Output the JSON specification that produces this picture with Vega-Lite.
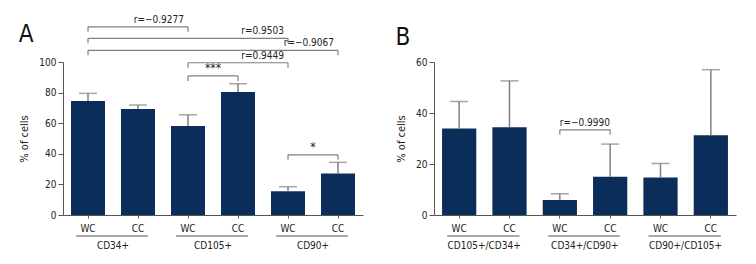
{
  "$schema": "https://vega.github.io/schema/vega-lite/v6.json",
  "background": "white",
  "padding": {"left": 18, "top": 14, "right": 5, "bottom": 0},
  "config": {
    "view": {"stroke": null},
    "font": "DejaVu Sans Condensed, DejaVu Sans, sans-serif",
    "axis": {
      "grid": false,
      "domainColor": "#555555",
      "tickColor": "#555555",
      "labelColor": "#222222",
      "titleColor": "#222222",
      "labelFont": "DejaVu Sans Condensed, DejaVu Sans, sans-serif",
      "titleFont": "DejaVu Sans Condensed, DejaVu Sans, sans-serif",
      "labelFontSize": 10,
      "titleFontSize": 11,
      "titleFontWeight": "normal",
      "labelOverlap": false,
      "labelBound": false
    },
    "title": {
      "font": "DejaVu Sans Condensed, DejaVu Sans, sans-serif",
      "fontSize": 24,
      "fontWeight": "normal",
      "anchor": "start",
      "frame": "bounds",
      "color": "#111111"
    },
    "concat": {"spacing": 32}
  },
  "datasets": {
    "barsA": [
      {"group": "CD34+", "cond": "WC", "id": "CD34+ WC", "value": 74.5, "upper": 79.5},
      {"group": "CD34+", "cond": "CC", "id": "CD34+ CC", "value": 69.3, "upper": 71.9},
      {"group": "CD105+", "cond": "WC", "id": "CD105+ WC", "value": 58.2, "upper": 65.5},
      {"group": "CD105+", "cond": "CC", "id": "CD105+ CC", "value": 80.4, "upper": 85.8},
      {"group": "CD90+", "cond": "WC", "id": "CD90+ WC", "value": 15.5, "upper": 18.5},
      {"group": "CD90+", "cond": "CC", "id": "CD90+ CC", "value": 27.2, "upper": 34.4}
    ],
    "barsB": [
      {"group": "CD105+/CD34+", "cond": "WC", "id": "CD105+/CD34+ WC", "value": 33.9, "upper": 44.5},
      {"group": "CD105+/CD34+", "cond": "CC", "id": "CD105+/CD34+ CC", "value": 34.4, "upper": 52.6},
      {"group": "CD34+/CD90+", "cond": "WC", "id": "CD34+/CD90+ WC", "value": 5.9, "upper": 8.3},
      {"group": "CD34+/CD90+", "cond": "CC", "id": "CD34+/CD90+ CC", "value": 15.0, "upper": 27.8},
      {"group": "CD90+/CD105+", "cond": "WC", "id": "CD90+/CD105+ WC", "value": 14.7, "upper": 20.2},
      {"group": "CD90+/CD105+", "cond": "CC", "id": "CD90+/CD105+ CC", "value": 31.3, "upper": 57.0}
    ],
    "brA": [
      {"from": "CD34+ WC", "to": "CD105+ WC", "y": 123.0, "label": "r=−0.9277", "kind": "r"},
      {"from": "CD34+ WC", "to": "CD90+ WC", "y": 115.5, "label": "r=0.9503", "kind": "r"},
      {"from": "CD34+ WC", "to": "CD90+ CC", "y": 107.6, "label": "r=−0.9067", "kind": "r"},
      {"from": "CD105+ WC", "to": "CD90+ WC", "y": 99.5, "label": "r=0.9449", "kind": "r"},
      {"from": "CD105+ WC", "to": "CD105+ CC", "y": 90.9, "label": "***", "kind": "c"},
      {"from": "CD90+ WC", "to": "CD90+ CC", "y": 39.3, "label": "*", "kind": "c"}
    ],
    "brB": [
      {"from": "CD34+/CD90+ WC", "to": "CD34+/CD90+ CC", "y": 33.4, "label": "r=−0.9990", "kind": "c"}
    ],
    "grpA": [
      {"group": "CD34+", "wc": "CD34+ WC", "cc": "CD34+ CC"},
      {"group": "CD105+", "wc": "CD105+ WC", "cc": "CD105+ CC"},
      {"group": "CD90+", "wc": "CD90+ WC", "cc": "CD90+ CC"}
    ],
    "grpB": [
      {"group": "CD105+/CD34+", "wc": "CD105+/CD34+ WC", "cc": "CD105+/CD34+ CC"},
      {"group": "CD34+/CD90+", "wc": "CD34+/CD90+ WC", "cc": "CD34+/CD90+ CC"},
      {"group": "CD90+/CD105+", "wc": "CD90+/CD105+ WC", "cc": "CD90+/CD105+ CC"}
    ]
  },
  "hconcat": [
    {
      "title": {"text": "A", "offset": -32},
      "width": 300,
      "height": 153,
      "layer": [
        {
          "data": {"name": "barsA"},
          "mark": {"type": "bar", "color": "#0b2d5a"},
          "encoding": {
            "x": {
              "field": "id", "type": "nominal", "sort": null,
              "scale": {"domain": ["CD34+ WC", "CD34+ CC", "CD105+ WC", "CD105+ CC", "CD90+ WC", "CD90+ CC"], "paddingInner": 0.32, "paddingOuter": 0.16},
              "axis": {"title": null, "labelAngle": 0, "tickSize": 3, "labelPadding": 5, "labelExpr": "split(datum.label, ' ')[1]"}
            },
            "y": {
              "field": "value", "type": "quantitative",
              "scale": {"domain": [0, 100], "nice": false},
              "axis": {"title": "% of cells", "values": [0, 20, 40, 60, 80, 100], "tickCount": 6, "labelOverlap": false, "labelSeparation": 0, "tickSize": 5, "labelPadding": 2, "titlePadding": 9}
            }
          }
        },
        {
          "data": {"name": "barsA"},
          "mark": {"type": "rule", "color": "#808080", "strokeWidth": 1.5},
          "encoding": {
            "x": {"field": "id", "type": "nominal"},
            "y": {"field": "value", "type": "quantitative"},
            "y2": {"field": "upper"}
          }
        },
        {
          "data": {"name": "barsA"},
          "mark": {"type": "tick", "color": "#808080", "thickness": 1.5, "size": 18},
          "encoding": {
            "x": {"field": "id", "type": "nominal"},
            "y": {"field": "upper", "type": "quantitative"}
          }
        },
        {
          "data": {"name": "brA"},
          "mark": {"type": "rule", "color": "#808080", "strokeWidth": 1.2},
          "encoding": {
            "x": {"field": "from", "type": "nominal"},
            "x2": {"field": "to"},
            "y": {"field": "y", "type": "quantitative"}
          }
        },
        {
          "data": {"name": "brA"},
          "mark": {"type": "rule", "color": "#808080", "strokeWidth": 1.2, "y2Offset": 5},
          "encoding": {
            "x": {"field": "from", "type": "nominal"},
            "y": {"field": "y", "type": "quantitative"},
            "y2": {"field": "y"}
          }
        },
        {
          "data": {"name": "brA"},
          "mark": {"type": "rule", "color": "#808080", "strokeWidth": 1.2, "y2Offset": 5},
          "encoding": {
            "x": {"field": "to", "type": "nominal"},
            "y": {"field": "y", "type": "quantitative"},
            "y2": {"field": "y"}
          }
        },
        {
          "data": {"name": "brA"},
          "transform": [{"filter": "datum.kind === 'r'"}],
          "mark": {"type": "text", "align": "right", "baseline": "bottom", "dx": -4, "dy": -2, "fontSize": 10, "color": "#222222"},
          "encoding": {
            "x": {"field": "to", "type": "nominal"},
            "y": {"field": "y", "type": "quantitative"},
            "text": {"field": "label"}
          }
        },
        {
          "data": {"name": "brA"},
          "transform": [{"filter": "datum.kind === 'c'"}],
          "mark": {"type": "text", "align": "center", "baseline": "bottom", "dx": 25, "dy": -1, "fontSize": 12, "color": "#222222"},
          "encoding": {
            "x": {"field": "from", "type": "nominal"},
            "y": {"field": "y", "type": "quantitative"},
            "text": {"field": "label"}
          }
        },
        {
          "data": {"name": "grpA"},
          "mark": {"type": "rule", "color": "#555555", "strokeWidth": 1, "xOffset": -12, "x2Offset": 10, "yOffset": 21},
          "encoding": {
            "x": {"field": "wc", "type": "nominal"},
            "x2": {"field": "cc"},
            "y": {"datum": 0}
          }
        },
        {
          "data": {"name": "grpA"},
          "mark": {"type": "text", "align": "center", "baseline": "alphabetic", "dx": 25, "dy": 34, "fontSize": 10, "color": "#222222"},
          "encoding": {
            "x": {"field": "wc", "type": "nominal"},
            "y": {"datum": 0},
            "text": {"field": "group"}
          }
        }
      ]
    },
    {
      "title": {"text": "B", "offset": 7},
      "width": 302,
      "height": 153,
      "layer": [
        {
          "data": {"name": "barsB"},
          "mark": {"type": "bar", "color": "#0b2d5a"},
          "encoding": {
            "x": {
              "field": "id", "type": "nominal", "sort": null,
              "scale": {"domain": ["CD105+/CD34+ WC", "CD105+/CD34+ CC", "CD34+/CD90+ WC", "CD34+/CD90+ CC", "CD90+/CD105+ WC", "CD90+/CD105+ CC"], "paddingInner": 0.32, "paddingOuter": 0.16},
              "axis": {"title": null, "labelAngle": 0, "tickSize": 3, "labelPadding": 5, "labelExpr": "split(datum.label, ' ')[1]"}
            },
            "y": {
              "field": "value", "type": "quantitative",
              "scale": {"domain": [0, 60], "nice": false},
              "axis": {"title": "% of cells", "values": [0, 20, 40, 60], "labelOverlap": false, "tickSize": 5, "labelPadding": 2, "titlePadding": 9}
            }
          }
        },
        {
          "data": {"name": "barsB"},
          "mark": {"type": "rule", "color": "#808080", "strokeWidth": 1.5},
          "encoding": {
            "x": {"field": "id", "type": "nominal"},
            "y": {"field": "value", "type": "quantitative"},
            "y2": {"field": "upper"}
          }
        },
        {
          "data": {"name": "barsB"},
          "mark": {"type": "tick", "color": "#808080", "thickness": 1.5, "size": 18},
          "encoding": {
            "x": {"field": "id", "type": "nominal"},
            "y": {"field": "upper", "type": "quantitative"}
          }
        },
        {
          "data": {"name": "brB"},
          "mark": {"type": "rule", "color": "#808080", "strokeWidth": 1.2},
          "encoding": {
            "x": {"field": "from", "type": "nominal"},
            "x2": {"field": "to"},
            "y": {"field": "y", "type": "quantitative"}
          }
        },
        {
          "data": {"name": "brB"},
          "mark": {"type": "rule", "color": "#808080", "strokeWidth": 1.2, "y2Offset": 5},
          "encoding": {
            "x": {"field": "from", "type": "nominal"},
            "y": {"field": "y", "type": "quantitative"},
            "y2": {"field": "y"}
          }
        },
        {
          "data": {"name": "brB"},
          "mark": {"type": "rule", "color": "#808080", "strokeWidth": 1.2, "y2Offset": 5},
          "encoding": {
            "x": {"field": "to", "type": "nominal"},
            "y": {"field": "y", "type": "quantitative"},
            "y2": {"field": "y"}
          }
        },
        {
          "data": {"name": "brB"},
          "mark": {"type": "text", "align": "center", "baseline": "bottom", "dx": 25, "dy": -2, "fontSize": 10, "color": "#222222"},
          "encoding": {
            "x": {"field": "from", "type": "nominal"},
            "y": {"field": "y", "type": "quantitative"},
            "text": {"field": "label"}
          }
        },
        {
          "data": {"name": "grpB"},
          "mark": {"type": "rule", "color": "#555555", "strokeWidth": 1, "xOffset": -12, "x2Offset": 10, "yOffset": 21},
          "encoding": {
            "x": {"field": "wc", "type": "nominal"},
            "x2": {"field": "cc"},
            "y": {"datum": 0}
          }
        },
        {
          "data": {"name": "grpB"},
          "mark": {"type": "text", "align": "center", "baseline": "alphabetic", "dx": 25, "dy": 34, "fontSize": 10, "color": "#222222"},
          "encoding": {
            "x": {"field": "wc", "type": "nominal"},
            "y": {"datum": 0},
            "text": {"field": "group"}
          }
        }
      ]
    }
  ]
}
